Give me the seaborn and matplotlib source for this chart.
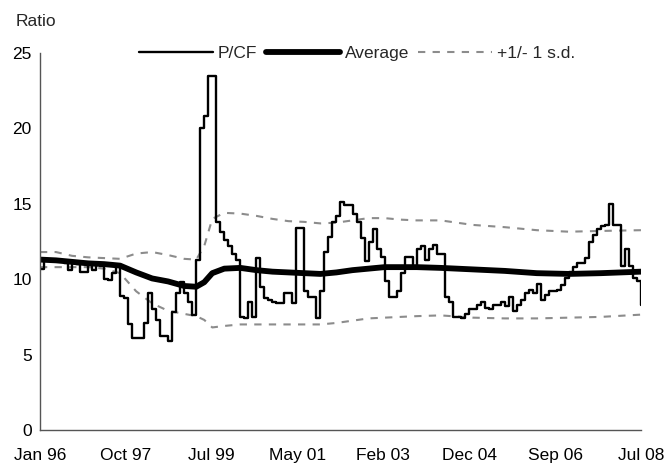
import numpy as np
import pandas as pd
import seaborn as sns
import matplotlib.pyplot as plt

# month index 0 = Jan 96 ... 150 = Jul 08
pcf = [10.7, 11.3, 11.3, 11.2, 11.3, 11.2, 11.1, 10.6, 11.1, 11.0,
       10.5, 10.5, 11.0, 10.6, 11.0, 10.9, 10.0, 9.95, 10.4, 10.9,
       8.9, 8.75, 7.0, 6.1, 6.1, 6.1, 7.1, 9.1, 8.0, 7.3,
       6.25, 6.25, 5.9, 7.8, 9.1, 9.8, 9.1, 8.5, 7.6, 11.3,
       20.0, 20.8, 23.5, 23.5, 13.8, 13.1, 12.6, 12.2, 11.7, 11.3,
       7.5, 7.4, 8.5, 7.5, 11.4, 9.5, 8.75, 8.6, 8.5, 8.4,
       8.4, 9.1, 9.1, 8.4, 13.4, 13.4, 9.2, 8.8, 8.8, 7.4,
       9.2, 11.8, 12.8, 13.8, 14.2, 15.1, 14.9, 14.9, 14.3, 13.8,
       12.7, 11.2, 12.5, 13.3, 12.0, 11.5, 9.9, 8.8, 8.8, 9.2,
       10.4, 11.5, 11.5, 10.8, 12.0, 12.2, 11.3, 12.0, 12.3, 11.7,
       11.7, 8.8, 8.5, 7.5, 7.5, 7.4, 7.7, 8.0, 8.0, 8.3,
       8.5, 8.1, 8.0, 8.3, 8.3, 8.5, 8.2, 8.8, 7.9, 8.3,
       8.6, 9.1, 9.3, 9.1, 9.7, 8.6, 8.95, 9.2, 9.2, 9.3,
       9.6, 10.1, 10.5, 10.8, 11.05, 11.1, 11.4, 12.5, 12.9, 13.3,
       13.5, 13.6, 15.0, 13.6, 13.6, 10.9, 12.0, 10.9, 10.1, 9.85,
       8.3]
months = list(range(len(pcf)))

band_months = [0, 4, 8, 12, 16, 20, 24, 28, 32, 36, 39, 41, 43, 46, 50, 54, 58,
               62, 66, 70, 74, 78, 82, 86, 90, 94, 100, 108, 116, 124, 132, 140, 150]
average = [11.3, 11.25, 11.15, 11.05, 11.0, 10.9, 10.45, 10.05, 9.85, 9.55, 9.5,
           9.8, 10.4, 10.7, 10.75, 10.6, 10.5, 10.45, 10.4, 10.35, 10.45, 10.6,
           10.7, 10.8, 10.8, 10.8, 10.75, 10.65, 10.55, 10.4, 10.35, 10.4, 10.5]
upper = [11.8, 11.8, 11.55, 11.45, 11.4, 11.35, 11.7, 11.8, 11.6, 11.35, 11.3,
         12.2, 14.0, 14.4, 14.35, 14.2, 14.0, 13.85, 13.8, 13.7, 13.75, 13.9,
         14.05, 14.05, 13.95, 13.9, 13.9, 13.6, 13.45, 13.25, 13.15, 13.2, 13.25]
lower = [10.8, 10.8, 10.8, 10.8, 10.7, 10.4, 9.2, 8.4, 7.9, 7.7, 7.55, 7.3, 6.8,
         6.9, 7.0, 7.0, 7.0, 7.0, 7.0, 7.0, 7.1, 7.25, 7.4, 7.45, 7.5, 7.55, 7.6,
         7.45, 7.4, 7.4, 7.45, 7.5, 7.65]

tick_labels = ["Jan 96", "Oct 97", "Jul 99", "May 01", "Feb 03", "Dec 04", "Sep 06", "Jul 08"]

sns.set_style("white")
plt.rcParams["font.family"] = ["Liberation Sans", "DejaVu Sans"]
plt.rcParams["font.size"] = 12.5

fig = plt.figure(figsize=(6.66, 4.63), dpi=100)
ax = fig.add_axes([0.060, 0.0713, 0.9025, 0.8142])

sd_style = dict(color="#8c8c8c", linewidth=1.5, linestyle=(0, (3.5, 3.5)))
sns.lineplot(x=band_months, y=upper, ax=ax, label="+1/- 1 s.d.", **sd_style)
sns.lineplot(x=band_months, y=lower, ax=ax, **sd_style)
sns.lineplot(x=band_months, y=average, ax=ax, color="black", linewidth=4.2,
             label="Average")
sns.lineplot(x=months, y=pcf, ax=ax, color="black", linewidth=1.7,
             drawstyle="steps-post", label="P/CF")

ax.set_xlim(0, 150)
ax.set_ylim(0, 25)
ax.set_yticks([0, 5, 10, 15, 20, 25])
ax.set_xticks([k * 150 / 7 for k in range(8)])
ax.set_xticklabels(tick_labels)
ax.tick_params(axis="x", direction="out", length=4, width=1, pad=9, colors="black")
ax.tick_params(axis="y", direction="out", length=4, width=1, pad=2, colors="black")
for s in ["top", "right"]:
    ax.spines[s].set_visible(False)
for s in ["left", "bottom"]:
    ax.spines[s].set_color("#555555")
    ax.spines[s].set_linewidth(1)
ax.set_xlabel("")
ax.set_ylabel("")

fig.text(16 / 666, 1 - 22 / 463, "Ratio", ha="left", va="center", fontsize=12.5)

handles, labels = ax.get_legend_handles_labels()
order = [labels.index(l) for l in ["P/CF", "Average", "+1/- 1 s.d."]]
ax.legend([handles[i] for i in order], [labels[i] for i in order], ncol=3,
          frameon=False, loc="center", bbox_to_anchor=(0.527, 1.0),
          handlelength=4.3, handletextpad=0.25, columnspacing=0.5,
          borderaxespad=0, fontsize=12.5)

fig.savefig("out.png", dpi=100)
